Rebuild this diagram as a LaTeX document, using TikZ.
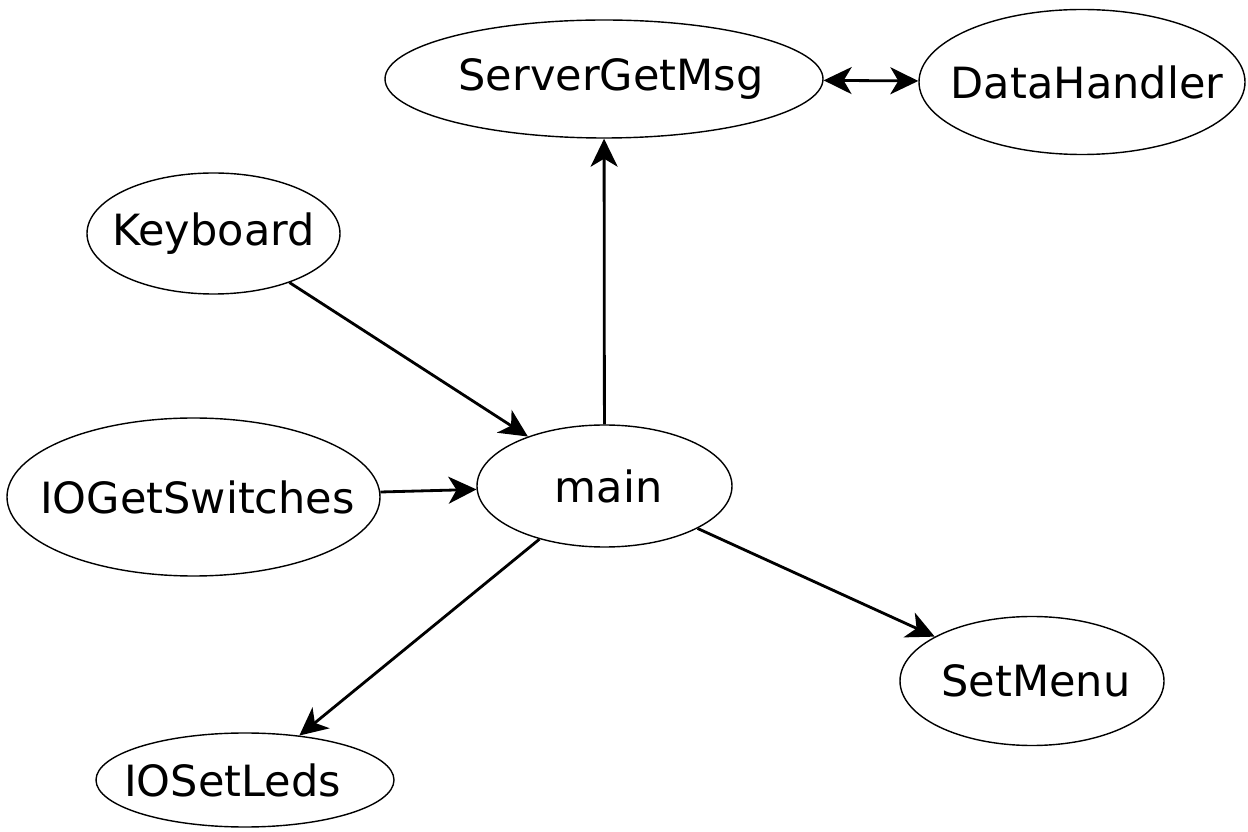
\documentclass[tikz,border=0pt]{standalone}
\usepackage{fontspec}
\setmainfont{DejaVu Sans}
\usetikzlibrary{shapes.geometric, positioning, arrows.meta}

% label of zero width, so the ellipse keeps its given size
\newcommand{\fname}[1]{\makebox[0pt]{#1}}

\tikzset{
  func/.style={ellipse, draw, line width=0.8pt, inner sep=0pt,
               font=\fontsize{24.5}{28}\selectfont},
  tip/.tip={Stealth[length=0.56cm, width=0.54cm, inset=0.16cm]},
  call/.style={-tip, line width=1.6pt}
}

\begin{document}
\begin{tikzpicture}
          \useasboundingbox (0,0) rectangle (24.96,16.62);
          \node[func, minimum width=5.1cm, minimum height=2.44cm] (main) at (12.09,6.9) {\fname{\hspace{0.16cm}main}};
          \node[func, minimum width=8.76cm, minimum height=2.36cm] (server) at (12.08,15.04) {\fname{\hspace{0.28cm}ServerGetMsg}};
          \node[func, minimum width=6.52cm, minimum height=2.9cm] (data) at (21.64,14.98) {\fname{\hspace{0.2cm}DataHandler}};
          \node[func, minimum width=5.06cm, minimum height=2.42cm] (keyb) at (4.27,11.95) {\fname{Keyboard}};
          \node[func, minimum width=7.46cm, minimum height=3.16cm] (switches) at (3.87,6.68) {\fname{\hspace{0.16cm}IOGetSwitches}};
          \node[func, minimum width=5.28cm, minimum height=2.58cm] (menu) at (20.64,3.0) {\fname{\hspace{0.16cm}SetMenu}};
          \node[func, minimum width=5.96cm, minimum height=1.88cm] (leds) at (4.9,1.02) {\fname{IOSetLeds\hspace{0.5cm}}};
          \draw[call] (main) -- (server);
          \draw[call, tip-tip] (server) -- (data);
          \draw[call] (keyb) -- (main);
          \draw[call] (switches) -- (main);
          \draw[call] (main) -- (leds);
          \draw[call] (main) -- (menu);
        \end{tikzpicture}
\end{document}
